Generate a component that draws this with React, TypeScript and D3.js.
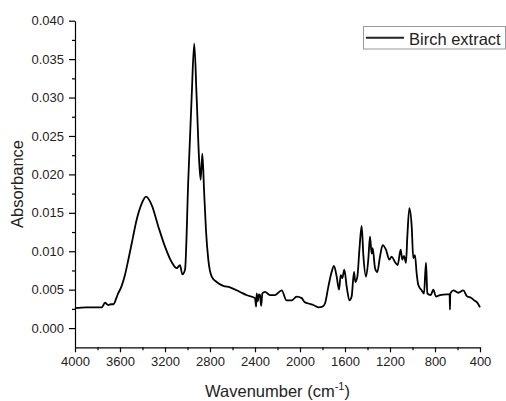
import React, { useEffect, useRef } from 'react';
import * as d3 from 'd3';

// spectrum (cm-1, absorbance)
const wavenumbers = [
  4000, 3900, 3800, 3763, 3733, 3705, 3680, 3660, 3620, 3585, 3556, 3526, 3496, 3452, 3407, 3369,
  3318, 3259, 3200, 3141, 3096, 3067, 3046, 3022, 2993, 2963, 2940, 2919, 2895, 2883, 2868, 2853,
  2836, 2815, 2785, 2741, 2682, 2622, 2533, 2477, 2400, 2390, 2385, 2375, 2365, 2356, 2345, 2335,
  2311, 2267, 2222, 2163, 2119, 2074, 2030, 1985, 1960, 1926, 1881, 1837, 1800, 1778, 1748, 1719,
  1698, 1674, 1653, 1638, 1624, 1606, 1585, 1561, 1541, 1520, 1508, 1490, 1472, 1452, 1437, 1413,
  1393, 1378, 1363, 1354, 1333, 1313, 1289, 1265, 1236, 1206, 1185, 1156, 1132, 1105, 1091, 1076,
  1058, 1046, 1028, 1007, 993, 978, 963, 948, 918, 898, 880, 868, 838, 815, 791, 756,
  696, 670, 667, 664, 637, 593, 548, 519, 474, 450, 430, 415, 400,
];
const absorbance = [
  0.0026, 0.0027, 0.0027, 0.0027, 0.0033, 0.0030, 0.0031, 0.0031, 0.0044, 0.0055, 0.0069, 0.0089, 0.0110, 0.0141, 0.0162, 0.0171,
  0.0160, 0.0132, 0.0106, 0.0086, 0.0078, 0.0082, 0.0070, 0.0076, 0.0193, 0.0301, 0.0370, 0.0301, 0.0214, 0.0193, 0.0227, 0.0180,
  0.0128, 0.0089, 0.0067, 0.0060, 0.0055, 0.0053, 0.0047, 0.0043, 0.0039, 0.0028, 0.0045, 0.0035, 0.0044, 0.0043, 0.0029, 0.0045,
  0.0047, 0.0043, 0.0043, 0.0049, 0.0036, 0.0036, 0.0041, 0.0039, 0.0034, 0.0032, 0.0030, 0.0027, 0.0028, 0.0032, 0.0054, 0.0073,
  0.0081, 0.0067, 0.0050, 0.0069, 0.0065, 0.0076, 0.0054, 0.0036, 0.0041, 0.0073, 0.0060, 0.0067, 0.0102, 0.0133, 0.0095, 0.0067,
  0.0089, 0.0119, 0.0097, 0.0104, 0.0078, 0.0073, 0.0093, 0.0108, 0.0102, 0.0089, 0.0093, 0.0086, 0.0082, 0.0102, 0.0089, 0.0094,
  0.0085, 0.0119, 0.0156, 0.0132, 0.0091, 0.0095, 0.0071, 0.0056, 0.0049, 0.0045, 0.0085, 0.0045, 0.0043, 0.0050, 0.0041, 0.0043,
  0.0044, 0.0044, 0.0024, 0.0045, 0.0049, 0.0046, 0.0049, 0.0042, 0.0039, 0.0036, 0.0034, 0.0031, 0.0027,
];

const xMajor = [4000, 3600, 3200, 2800, 2400, 2000, 1600, 1200, 800, 400];
const xMinor = [3800, 3400, 3000, 2600, 2200, 1800, 1400, 1000, 600];
const yMajor = [0, 0.005, 0.01, 0.015, 0.02, 0.025, 0.03, 0.035, 0.04];
const yMinor = [0.0025, 0.0075, 0.0125, 0.0175, 0.0225, 0.0275, 0.0325, 0.0375];
const seriesName = 'Birch extract';

const W = 506;
const H = 401;
const left = 75;
const right = 480;
const top = 20.7;
const bottom = 347.3;
const font = '"Liberation Sans", Arial, sans-serif';

const App = () => {
  const svgRef = useRef<SVGSVGElement>(null);

  useEffect(() => {
    const svg = d3.select(svgRef.current);
    svg.selectAll('*').remove();

    const x = d3.scaleLinear().domain([4000, 400]).range([left, right]);
    const y = d3.scaleLinear().domain([-0.0025, 0.04]).range([bottom, top]);

    // minor ticks first
    const gxMinor = svg.append('g').attr('transform', `translate(0,${bottom})`)
      .call(d3.axisBottom(x).tickValues(xMinor).tickSize(3).tickFormat(() => ''));
    gxMinor.select('.domain').remove();
    const gyMinor = svg.append('g').attr('transform', `translate(${left},0)`)
      .call(d3.axisLeft(y).tickValues(yMinor).tickSize(3).tickFormat(() => ''));
    gyMinor.select('.domain').remove();

    const gx = svg.append('g').attr('transform', `translate(0,${bottom})`)
      .call(d3.axisBottom(x).tickValues(xMajor).tickSize(5).tickSizeOuter(0).tickPadding(4).tickFormat(d3.format('d')));
    const gy = svg.append('g').attr('transform', `translate(${left},0)`)
      .call(d3.axisLeft(y).tickValues(yMajor).tickSize(6).tickSizeOuter(0).tickPadding(5).tickFormat(d3.format('.3f')));

    [gx, gy, gxMinor, gyMinor].forEach(g => {
      g.selectAll('line').attr('stroke', '#000').attr('stroke-width', 1.2);
      g.selectAll('.domain').attr('stroke', '#000').attr('stroke-width', 1.2);
      g.selectAll('text').attr('font-family', font).attr('font-size', 13).attr('fill', '#222');
    });

    const pts = wavenumbers.map((w, i) => [w, absorbance[i]] as [number, number]);
    const line = d3.line<[number, number]>()
      .x(d => x(d[0]))
      .y(d => y(d[1]))
      .curve(d3.curveMonotoneX);

    svg.append('path')
      .datum(pts)
      .attr('d', line)
      .attr('fill', 'none')
      .attr('stroke', '#000')
      .attr('stroke-width', 1.8)
      .attr('stroke-linejoin', 'round');

    // axis titles
    svg.append('text')
      .attr('transform', `translate(23,${(top + bottom) / 2}) rotate(-90)`)
      .attr('text-anchor', 'middle')
      .attr('font-family', font)
      .attr('font-size', 16.5)
      .attr('fill', '#222')
      .text('Absorbance');

    const xt = svg.append('text')
      .attr('x', (left + right) / 2)
      .attr('y', 397)
      .attr('text-anchor', 'middle')
      .attr('font-family', font)
      .attr('font-size', 16.5)
      .attr('fill', '#222');
    xt.append('tspan').text('Wavenumber (cm');
    xt.append('tspan').attr('font-size', 11).attr('dy', -7).text('-1');
    xt.append('tspan').attr('dy', 7).text(')');

    // legend
    const lg = svg.append('g');
    lg.append('rect')
      .attr('x', 363.5).attr('y', 26.5).attr('width', 142).attr('height', 22.5)
      .attr('fill', '#fff').attr('stroke', '#999').attr('stroke-width', 1);
    lg.append('line')
      .attr('x1', 366).attr('x2', 404).attr('y1', 37.7).attr('y2', 37.7)
      .attr('stroke', '#222').attr('stroke-width', 2);
    lg.append('text')
      .attr('x', 409).attr('y', 44.5)
      .attr('font-family', font).attr('font-size', 16.5).attr('fill', '#222')
      .text(seriesName);
  }, []);

  return (
    <svg ref={svgRef} width={W} height={H}
      style={{ position: 'absolute', left: 0, top: 0, background: '#fff' }} />
  );
};

export default App;
